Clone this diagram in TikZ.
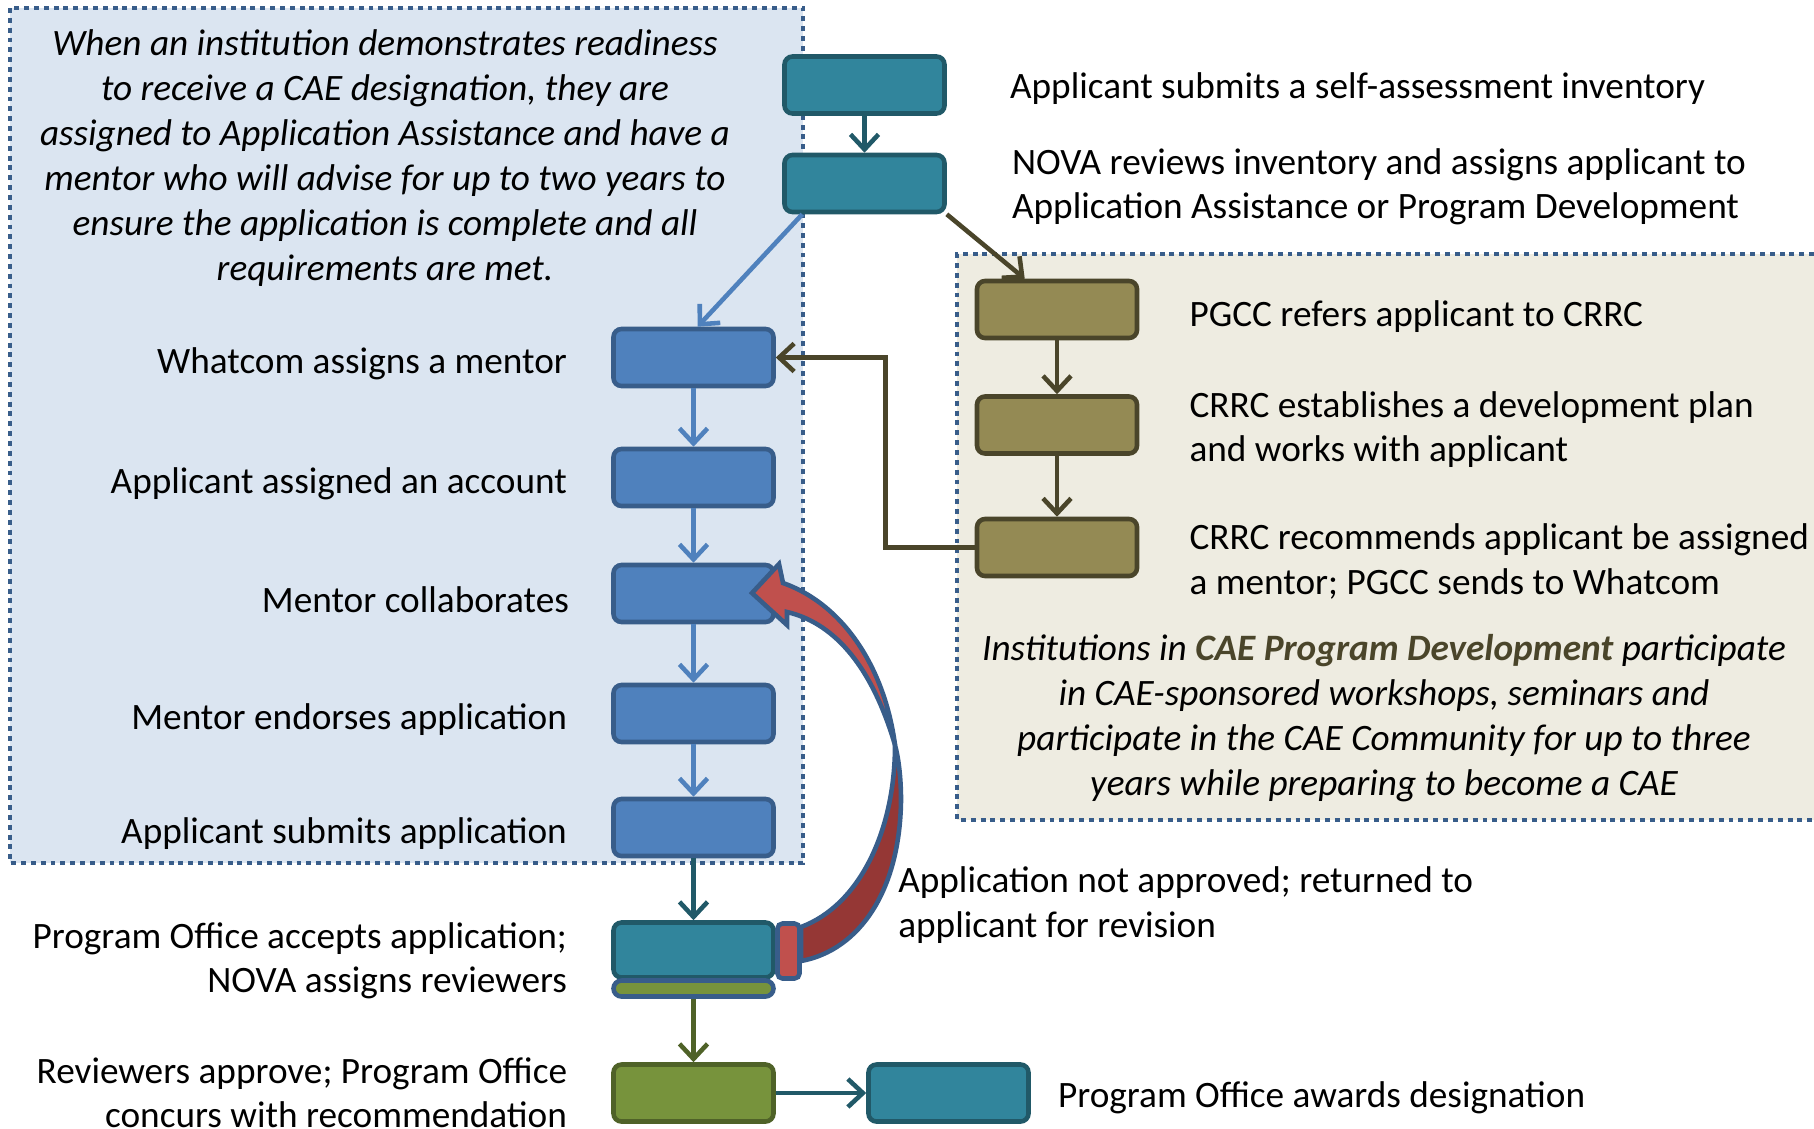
\documentclass[tikz,border=0pt]{standalone}
\usepackage{fontspec}
\setmainfont{Carlito}
\usetikzlibrary{arrows.meta,positioning,calc}
\tikzset{>={Straight Barb[length=1.5mm,width=2.8mm]}}
\definecolor{tealF}{HTML}{31859C}
\definecolor{tealD}{HTML}{215968}
\definecolor{blueF}{HTML}{4F81BD}
\definecolor{blueD}{HTML}{385D8A}
\definecolor{oliveF}{HTML}{948A54}
\definecolor{oliveD}{HTML}{4A452A}
\definecolor{greenF}{HTML}{77933C}
\definecolor{greenD}{HTML}{4F6228}
\definecolor{redF}{HTML}{C0504D}
\definecolor{redD}{HTML}{953735}
\definecolor{bluebg}{HTML}{DBE5F1}
\definecolor{beigebg}{HTML}{EEECE1}

\begin{document}
\begin{tikzpicture}[font=\fontsize{10.6}{12.6}\selectfont, line width=1.3pt]
\tikzstyle{bx}=[rounded corners=0.8mm, minimum width=16mm, minimum height=5.7mm, inner sep=0, line width=1.3pt]
\tikzstyle{tb}=[bx, draw=tealD, fill=tealF]
\tikzstyle{bb}=[bx, draw=blueD, fill=blueF]
\tikzstyle{ob}=[bx, draw=oliveD, fill=oliveF]
\tikzstyle{gb}=[bx, draw=greenD, fill=greenF]
\tikzstyle{lbl}=[inner sep=0, align=left]
\tikzstyle{lblr}=[inner sep=0, align=right, yshift=-0.65mm]
\tikzstyle{dots}=[draw=blueD, line width=1.4pt, dash pattern=on 1.4pt off 1.4pt]

    \useasboundingbox (0,0) rectangle (18.14,-11.28);

    % panels
    \fill[bluebg] (0.10,-0.08) rectangle (8.03,-8.63);
    \draw[dots] (0.10,-0.08) rectangle (8.03,-8.63);
    \fill[beigebg] (9.57,-2.54) rectangle (18.14,-8.20);
    \draw[dots] (18.14,-2.54) -- (9.57,-2.54) -- (9.57,-8.20) -- (18.14,-8.20);

    \node[align=center, inner sep=0, font=\fontsize{10.6}{12.8}\selectfont\itshape] (intro) at (3.85,-1.58)
      {When an institution demonstrates readiness\\ to receive a CAE designation, they are\\ assigned to Application Assistance and have a\\ mentor who will advise for up to two years to\\ ensure the application is complete and all\\ requirements are met.};
    \node[align=center, inner sep=0, font=\fontsize{10.6}{12.8}\selectfont\itshape] (pdtxt) at (13.84,-7.18)
      {Institutions in \textbf{\color{oliveD}CAE Program Development} participate\\ in CAE-sponsored workshops, seminars and\\ participate in the CAE Community for up to three\\ years while preparing to become a CAE};

    % boxes
    \node[tb] (b1) at (8.645,-0.85){};
    \node[tb] (b2) at (8.645,-1.835){};
    \node[bb] (wa) at (6.935,-3.575){};
    \node[bb] (ac) at (6.935,-4.775){};
    \node[bb] (mc) at (6.935,-5.935){};
    \node[bb] (me) at (6.935,-7.135){};
    \node[bb] (as) at (6.935,-8.275){};
    \node[tb, minimum height=5.5mm] (po) at (6.935,-9.50){};
    \node[bx, draw=blueD, fill=greenF, minimum height=1.6mm] (st) at (6.935,-9.885){};
    \node[bx, draw=blueD, fill=redF, minimum width=2.2mm, minimum height=5.5mm, rounded corners=0.5mm] (rr) at (7.885,-9.51){};
    \node[gb] (rv) at (6.935,-10.93){};
    \node[tb] (aw) at (9.485,-10.93){};
    \node[ob] (pg) at (10.57,-3.095){};
    \node[ob] (ce) at (10.57,-4.25){};
    \node[ob] (cr) at (10.57,-5.475){};

    % texts
    \node[lbl, right=0.61 of b1, yshift=-0.35mm] (t1) {Applicant submits a self-assessment inventory};
    \node[lbl, right=0.63 of b2, yshift=-0.35mm] (t2) {NOVA reviews inventory and assigns applicant to\\ Application Assistance or Program Development};
    \node[lbl, right=0.48 of pg, yshift=-0.7mm] (t3) {PGCC refers applicant to CRRC};
    \node[lbl, right=0.48 of ce, yshift=-0.45mm] (t4) {CRRC establishes a development plan\\ and works with applicant};
    \node[lbl, right=0.48 of cr, yshift=-1.4mm] (t5) {CRRC recommends applicant be assigned\\ a mentor; PGCC sends to Whatcom};
    \node[lblr, left=0.42 of wa] (l1) {Whatcom assigns a mentor};
    \node[lblr, left=0.42 of ac] (l2) {Applicant assigned an account};
    \node[lblr, left=0.40 of mc] (l3) {Mentor collaborates};
    \node[lblr, left=0.42 of me] (l4) {Mentor endorses application};
    \node[lblr, left=0.42 of as] (l5) {Applicant submits application};
    \node[lblr, left=0.42 of po, yshift=-0.4mm] (l6) {Program Office accepts application;\\ NOVA assigns reviewers};
    \node[lblr, left=0.42 of rv, yshift=0.65mm] (l7) {Reviewers approve; Program Office\\ concurs with recommendation};
    \node[lbl, right=0.25 of aw, yshift=-0.45mm] (t6) {Program Office awards designation};
    \node[lbl, anchor=west] (rej) at (8.96,-9.05) {Application not approved; returned to\\ applicant for revision};

    % returned application
    \filldraw[draw=blueD, fill=redD] (8.01,-9.61) .. controls (8.60,-9.50) and (9.00,-8.90) .. (9.01,-8.00)
      .. controls (9.01,-7.80) and (8.99,-7.60) .. (8.95,-7.45)
      .. controls (8.95,-8.30) and (8.60,-9.05) .. (8.01,-9.27) -- cycle;
    \filldraw[draw=blueD, fill=redF] (8.95,-7.45) .. controls (8.85,-6.70) and (8.45,-6.05) .. (7.83,-5.83)
      -- (7.79,-5.64) -- (7.52,-5.93) -- (7.87,-6.25) -- (7.87,-6.12)
      .. controls (8.30,-6.22) and (8.70,-6.60) .. (8.95,-7.45) -- cycle;

    % arrows
    \draw[->, tealD] (b1) edge (b2);
    \draw[->, blueF] ($(b2.south west)+(0.2,0)$) -- ($(wa.north)+(0.04,0)$);
    \draw[->, oliveD] (b2.south east) -- ($(pg.north west)+(0.5,0)$);
    \draw[->, blueF] (wa) edge (ac);
    \draw[->, blueF] (ac) edge (mc);
    \draw[->, blueF] (mc) edge (me);
    \draw[->, blueF] (me) edge (as);
    \draw[->, tealD] (as) edge (po);
    \draw[->, greenD] (st) edge (rv);
    \draw[->, tealD] (rv) edge (aw);
    \draw[->, oliveD] (pg) edge (ce);
    \draw[->, oliveD] (ce) edge (cr);
    \draw[->, oliveD] (cr.west) -- ++(-0.89,0) |- (wa.east);

\end{tikzpicture}
\end{document}
